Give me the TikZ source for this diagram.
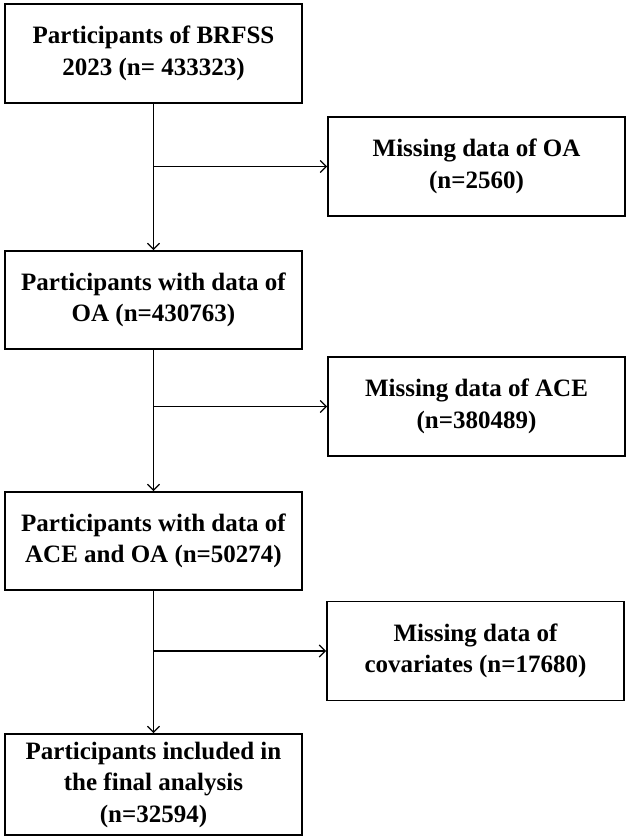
\documentclass[tikz,border=0pt]{standalone}
\usepackage{fontspec}
\setmainfont{Liberation Serif}
\usetikzlibrary{arrows.meta}
\begin{document}
\begin{tikzpicture}[x=1pt,y=-1pt,
  box/.style={draw=black,line width=1.7pt,minimum width=297pt,inner sep=0pt,
    align=center,font=\fontsize{25}{31.5}\selectfont\bfseries},
  conn/.style={line width=1.4pt,-{Straight Barb[length=6pt,width=12pt,line width=1.3pt]}}]
\useasboundingbox (0,0) rectangle (630,839);
\node[box,minimum height=99pt] (b1) at (153.5,53.5) {Participants of BRFSS\\2023 (n= 433323)};
\node[box,minimum height=99pt] (b2) at (476.5,166.5) {Missing data of OA\\(n=2560)};
\node[box,minimum height=98pt] (b3) at (153.5,300) {Participants with data of\\OA (n=430763)};
\node[box,minimum height=99pt] (b4) at (476.5,406.5) {Missing data of ACE\\(n=380489)};
\node[box,minimum height=98pt] (b5) at (153.5,541) {Participants with data of\\ACE and OA (n=50274)};
\node[box,minimum height=99pt] (b6) at (475.5,651) {Missing data of\\covariates (n=17680)};
\node[box,minimum height=101pt] (b7) at (153.5,784.5) {Participants included in\\the final analysis\\(n=32594)};
\coordinate (j1) at (b1.south |- b2.west);
\coordinate (j2) at (b3.south |- b4.west);
\coordinate (j3) at (b5.south |- b6.west);
\draw[conn] (b1.south) -- (b3.north);
\draw[conn] (b3.south) -- (b5.north);
\draw[conn] (b5.south) -- (b7.north);
\draw[conn] (j1) -- (b2.west);
\draw[conn] (j2) -- (b4.west);
\draw[conn] (j3) -- (b6.west);
\end{tikzpicture}
\end{document}
